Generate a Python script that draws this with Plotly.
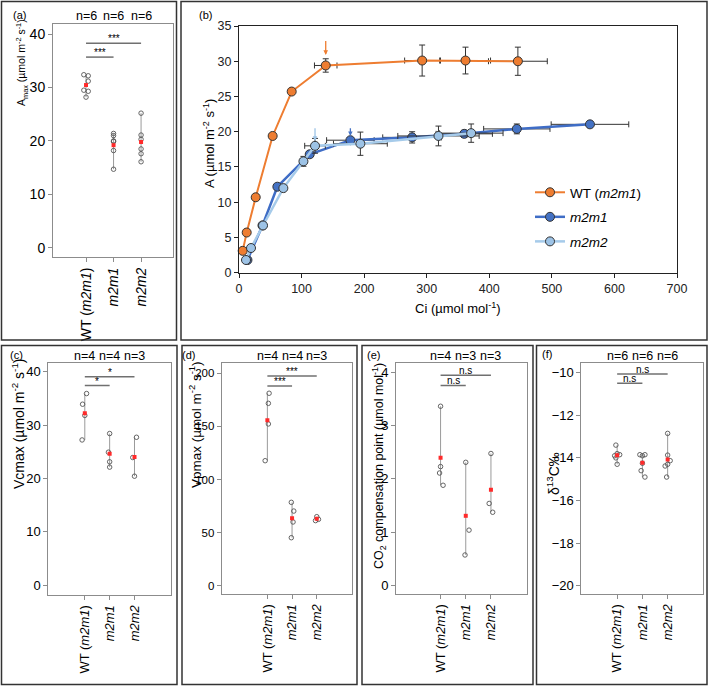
import numpy as np
import plotly.graph_objects as go

W, H = 709, 686

# ---------------- data ----------------
cats = ["WT (<i>m2m1</i>)", "<i>m2m1</i>", "<i>m2m2</i>"]

# panel (a) Amax
amax_wt = [32.4, 32.2, 31.2, 29.5, 29.3, 28.2]
amax_m2m1 = [21.4, 21.0, 20.0, 19.9, 18.2, 14.7]
amax_m2m2 = [25.2, 21.1, 20.3, 18.5, 17.6, 16.1]

# panel (c) Vcmax
vcmax_wt = [35.9, 33.9, 31.8, 27.2]
vcmax_m2m1 = [28.4, 24.9, 23.1, 22.1]
vcmax_m2m2 = [27.7, 23.9, 20.4]

# panel (d) Vpmax
vpmax_wt = [181.2, 171.7, 152.3, 117.7]
vpmax_m2m1 = [78.5, 70.3, 60.0, 45.2]
vpmax_m2m2 = [65.0, 62.5, 61.3]

# panel (e) CO2 compensation point
ccp_wt = [3.36, 2.23, 2.11, 1.88]
ccp_m2m1 = [2.31, 1.04, 0.575]
ccp_m2m2 = [2.475, 1.54, 1.375]

# panel (f) delta13C
d13c_wt = [-13.4, -13.8, -13.85, -13.9, -14.0, -14.3]
d13c_m2m1 = [-13.85, -13.85, -13.9, -14.25, -14.6, -14.9]
d13c_m2m2 = [-12.85, -13.87, -14.13, -14.3, -14.38, -14.9]

# panel (b) A/Ci curves
wt_ci = [5.9, 12.3, 26.7, 53.8, 84.2, 138.6, 292.7, 362.0, 445.7]
wt_a = [3.1, 5.7, 10.7, 19.4, 25.7, 29.4, 30.1, 30.1, 30.0]
wt_ci_err = [1, 1, 1.5, 2, 4, 18, 28, 40, 47]
wt_a_err = [0.2, 0.2, 0.3, 0.3, 0.3, 0.95, 2.2, 1.9, 2.0]

m2m1_ci = [13.5, 37.5, 61.3, 113.0, 178.0, 276.7, 360.0, 444.0, 560.9]
m2m1_a = [1.8, 6.7, 12.2, 16.8, 18.8, 19.2, 19.7, 20.4, 21.05]
m2m1_ci_err = [1, 2, 3, 5, 38, 47, 45, 53, 62]
m2m1_a_err = [0.2, 0.3, 0.3, 0.3, 0.3, 0.8, 0.5, 0.7, 0.3]

m2m2_ci = [11.2, 19.2, 38.4, 70.9, 103.0, 121.5, 194.0, 318.8, 371.0]
m2m2_a = [1.8, 3.5, 6.7, 12.0, 15.8, 18.0, 18.3, 19.4, 19.8]
m2m2_ci_err = [1, 1, 2, 3, 5, 16.5, 43, 65, 51]
m2m2_a_err = [0.2, 0.2, 0.3, 0.3, 0.7, 1.05, 1.65, 1.4, 1.3]

# ---------------- styling helpers ----------------
FONT = "Arial, Liberation Sans, Helvetica, sans-serif"
ORANGE = "#EE7D31"
BLUE = "#4472C4"
LBLUE = "#9DC3E6"


def xd(l, r):
    return [l / W, r / W]


def yd(t, b):
    return [1 - b / H, 1 - t / H]


fig = go.Figure()

# ---------------- panel (b) ----------------
series_b = [
    ("WT (<i>m2m1</i>)", wt_ci, wt_a, wt_ci_err, wt_a_err, ORANGE, ORANGE, 2),
    ("<i>m2m1</i>", m2m1_ci, m2m1_a, m2m1_ci_err, m2m1_a_err, "#3F6DC6", BLUE, 2.5),
    ("<i>m2m2</i>", m2m2_ci, m2m2_a, m2m2_ci_err, m2m2_a_err, "#A6CBEA", LBLUE, 2.5),
]
for i, (name, cx, ay, ex, ey, lc, mc, lw) in enumerate(series_b):
    fig.add_trace(go.Scatter(
        x=cx, y=ay, mode="lines+markers", name=name,
        line=dict(color=lc, width=lw),
        marker=dict(size=9, color=mc, line=dict(color="#333333", width=1)),
        error_x=dict(type="data", array=ex, color="#333333", thickness=1, width=3),
        error_y=dict(type="data", array=ey, color="#333333", thickness=1, width=3),
        xaxis="x2", yaxis="y2", cliponaxis=False, legendgroup=f"g{i}",
        showlegend=True,
    ))

# ---------------- dot panels ----------------
panels = [
    ("x", "y", [amax_wt, amax_m2m1, amax_m2m2],
     [[-0.08, 0.08, 0.08, -0.08, 0.08, 0.0], [0.0, 0.0, 0.0, 0.0, 0.0, 0.0], [0.0, 0.0, 0.0, 0.0, 0.0, 0.0]]),
    ("x3", "y3", [vcmax_wt, vcmax_m2m1, vcmax_m2m2],
     [[0.07, -0.09, 0.0, -0.11], [0.0, -0.05, 0.0, 0.0], [0.08, -0.07, 0.0]]),
    ("x4", "y4", [vpmax_wt, vpmax_m2m1, vpmax_m2m2],
     [[0.07, 0.04, 0.04, -0.09], [-0.03, 0.07, 0.04, -0.03], [0.0, 0.07, -0.05]]),
    ("x5", "y5", [ccp_wt, ccp_m2m1, ccp_m2m2],
     [[0.0, 0.0, -0.04, 0.1], [0.0, 0.13, -0.03], [0.0, -0.07, 0.07]]),
    ("x6", "y6", [d13c_wt, d13c_m2m1, d13c_m2m2],
     [[-0.05, 0.0, 0.1, -0.1, -0.05, 0.0], [-0.1, 0.1, 0.0, 0.0, -0.05, 0.1], [0.0, 0.0, 0.1, 0.0, -0.1, -0.04]]),
]

for xa, ya, groups, jit in panels:
    for ci, vals in enumerate(groups):
        c = ci + 1
        fig.add_trace(go.Scatter(
            x=[c, c], y=[min(vals), max(vals)], mode="lines",
            line=dict(color="#9a9a9a", width=1), xaxis=xa, yaxis=ya,
            showlegend=False, hoverinfo="skip"))
        fig.add_trace(go.Scatter(
            x=[c + j for j in jit[ci]], y=vals, mode="markers",
            marker=dict(symbol="circle-open", size=4.5, color="#555555", line=dict(width=0.9)),
            xaxis=xa, yaxis=ya, showlegend=False, cliponaxis=False))
        fig.add_trace(go.Scatter(
            x=[c], y=[float(np.mean(vals))], mode="markers",
            marker=dict(symbol="square", size=4, color="#ff2a2a"),
            xaxis=xa, yaxis=ya, showlegend=False))

# ---------------- axes ----------------
def dot_x(dom, rng, fs):
    return dict(domain=dom, range=rng, showline=True, mirror=True, linecolor="#8c8c8c",
                linewidth=1, ticks="outside", ticklen=4, tickcolor="#8c8c8c",
                showgrid=False, zeroline=False, tickvals=[1, 2, 3], ticktext=cats,
                tickangle=-90, automargin=False,
                tickfont=dict(size=fs, color="black", family=FONT))


def dot_y(dom, rng, tv, fs=13):
    return dict(domain=dom, range=rng, showline=True, mirror=True, linecolor="#8c8c8c",
                linewidth=1, ticks="outside", ticklen=4, tickcolor="#8c8c8c",
                showgrid=False, zeroline=False, tickvals=tv, automargin=False,
                tickfont=dict(size=fs, color="black", family=FONT))


layout_axes = dict(
    xaxis=dict(dot_x(xd(53, 173), [-0.2, 4.16], 14), anchor="y"),
    yaxis=dict(dot_y(yd(24, 257), [-1.74, 41.9], [0, 10, 20, 30, 40], 14), anchor="x"),
    xaxis3=dict(dot_x(xd(48.3, 171), [-0.47, 4.47], 13), anchor="y3"),
    yaxis3=dict(dot_y(yd(363.3, 595), [-1.875, 41.57], [0, 10, 20, 30, 40]), anchor="x3"),
    xaxis4=dict(dot_x(xd(221.7, 352.3), [-0.85, 4.44], 13), anchor="y4"),
    yaxis4=dict(dot_y(yd(363.3, 594), [-7.8, 209.4], [0, 50, 100, 150, 200], 11.5), anchor="x4"),
    xaxis5=dict(dot_x(xd(396, 526.7), [-0.77, 4.42], 13), anchor="y5"),
    yaxis5=dict(dot_y(yd(363, 594), [-0.156, 4.17], [0, 1, 2, 3, 4]), anchor="x5"),
    xaxis6=dict(dot_x(xd(581.3, 703), [-0.42, 4.4], 13), anchor="y6"),
    yaxis6=dict(dot_y(yd(363, 594), [-20.39, -9.545], [-20, -18, -16, -14, -12, -10]), anchor="x6"),
    xaxis2=dict(domain=xd(239, 677), range=[0, 700], showline=True, mirror=True,
                linecolor="#222222", linewidth=1, ticks="outside", ticklen=4,
                tickcolor="#222222", showgrid=False, zeroline=False, dtick=100,
                automargin=False,
                tickfont=dict(size=12.5, color="#222", family=FONT), anchor="y2"),
    yaxis2=dict(domain=yd(26, 272.7), range=[0, 35], showline=True, mirror=True,
                linecolor="#222222", linewidth=1, ticks="outside", ticklen=4,
                tickcolor="#222222", showgrid=False, zeroline=False, dtick=5,
                automargin=False,
                tickfont=dict(size=12.5, color="#222", family=FONT), anchor="x2"),
)

annotations = []
shapes = []


def pann(text, px, py, size=11, family=FONT, **kw):
    d = dict(text=text, x=px / W, y=1 - py / H, xref="paper", yref="paper",
             xanchor="center", yanchor="middle",
             showarrow=False, font=dict(size=size, color="black", family=family))
    d.update(kw)
    annotations.append(d)


# panel labels
pann("(a)", 19, 15)
pann("(b)", 205, 15)
pann("(c)", 16, 355)
pann("(d)", 189, 355)
pann("(e)", 374, 355)
pann("(f)", 547, 354)

# axis titles
pann("A<sub>max</sub> (µmol m<sup>-2</sup> s<sup>-1</sup>)", 22, 63, 10.5, textangle=-90)
pann("A (µmol m<sup>-2</sup> s<sup>-1</sup>)", 209, 144, 13, textangle=-90)
pann("Ci (µmol mol<sup>-1</sup>)", 458, 308, 13)
pann("Vcmax (µmol m<sup>-2</sup> s<sup>-1</sup>)", 18, 424, 14, textangle=-90)
pann("Vpmax (µmol m<sup>-2</sup> s<sup>-1</sup>)", 195, 425, 13.5, textangle=-90)
pann("CO<sub>2</sub> compensation point (µmol mol<sup>-1</sup>)", 379, 466, 12.5, textangle=-90)
pann("δ<sup>13</sup>C‰", 553, 474, 14, textangle=-90)

# n labels
n_rows = [("x", 16, [amax_wt, amax_m2m1, amax_m2m2]),
          ("x3", 356, [vcmax_wt, vcmax_m2m1, vcmax_m2m2]),
          ("x4", 356, [vpmax_wt, vpmax_m2m1, vpmax_m2m2]),
          ("x5", 356, [ccp_wt, ccp_m2m1, ccp_m2m2]),
          ("x6", 356, [d13c_wt, d13c_m2m1, d13c_m2m2])]
for xa, py, groups in n_rows:
    for ci, g in enumerate(groups):
        annotations.append(dict(text=f"n={len(g)}", x=ci + 1, xref=xa, y=1 - py / H,
                                yref="paper", xanchor="center", yanchor="middle",
                                showarrow=False,
                                font=dict(size=12.5, color="black", family=FONT)))

# significance bars
sig = [("x", "y", 35.7, 38.3, "***"),
       ("x3", "y3", 37.4, 39.06, "*"),
       ("x4", "y4", 188, 197.5, "***"),
       ("x5", "y5", 3.75, 3.94, "n.s"),
       ("x6", "y6", -10.5, -10.06, "n.s")]
for xa, ya, ylo, yhi, txt in sig:
    for x1, yy in [(2, ylo), (3, yhi)]:
        shapes.append(dict(type="line", xref=xa, yref=ya, x0=1, x1=x1, y0=yy, y1=yy,
                           line=dict(color="#707070", width=1.5)))
        annotations.append(dict(text=txt, x=(1 + x1) / 2, y=yy, xref=xa, yref=ya,
                                showarrow=False, xanchor="center", yanchor="bottom",
                                yshift=-3,
                                font=dict(size=10, color="black", family=FONT)))

# arrows on panel (b)
for xv, y_tip, y_tail, col in [(138.6, 30.9, 33.1, ORANGE), (121.5, 18.7, 20.7, LBLUE),
                               (178.0, 19.4, 20.7, BLUE)]:
    annotations.append(dict(x=xv, y=y_tip, ax=xv, ay=y_tail, xref="x2", yref="y2",
                            axref="x2", ayref="y2", text="", showarrow=True,
                            arrowhead=2, arrowsize=0.7, arrowwidth=1.3, arrowcolor=col))

# panel borders
for l, r, t, b in [(1.5, 176.5, 1.5, 340), (181, 707, 1.5, 340), (1.5, 177, 345.5, 684.5),
                   (182, 357, 345.5, 684.5), (362, 533, 345.5, 684.5), (536.5, 707, 345.5, 684.5)]:
    shapes.append(dict(type="rect", xref="paper", yref="paper", x0=l / W, x1=r / W,
                       y0=1 - b / H, y1=1 - t / H, line=dict(color="#333333", width=1.5)))

fig.update_layout(
    template="none",
    width=W, height=H, margin=dict(l=0, r=0, t=0, b=0, autoexpand=False),
    paper_bgcolor="white", plot_bgcolor="white",
    font=dict(family=FONT, color="black"),
    annotations=annotations, shapes=shapes,
    legend=dict(x=530 / W, y=1 - 177 / H, xanchor="left", yanchor="top",
                bgcolor="rgba(0,0,0,0)", font=dict(size=13.5, color="black", family=FONT),
                tracegroupgap=4, itemwidth=30),
    **layout_axes,
)

fig.write_html("out.html", config={"displayModeBar": False},
               post_script="document.body.style.margin='0';document.body.style.overflow='hidden';")
